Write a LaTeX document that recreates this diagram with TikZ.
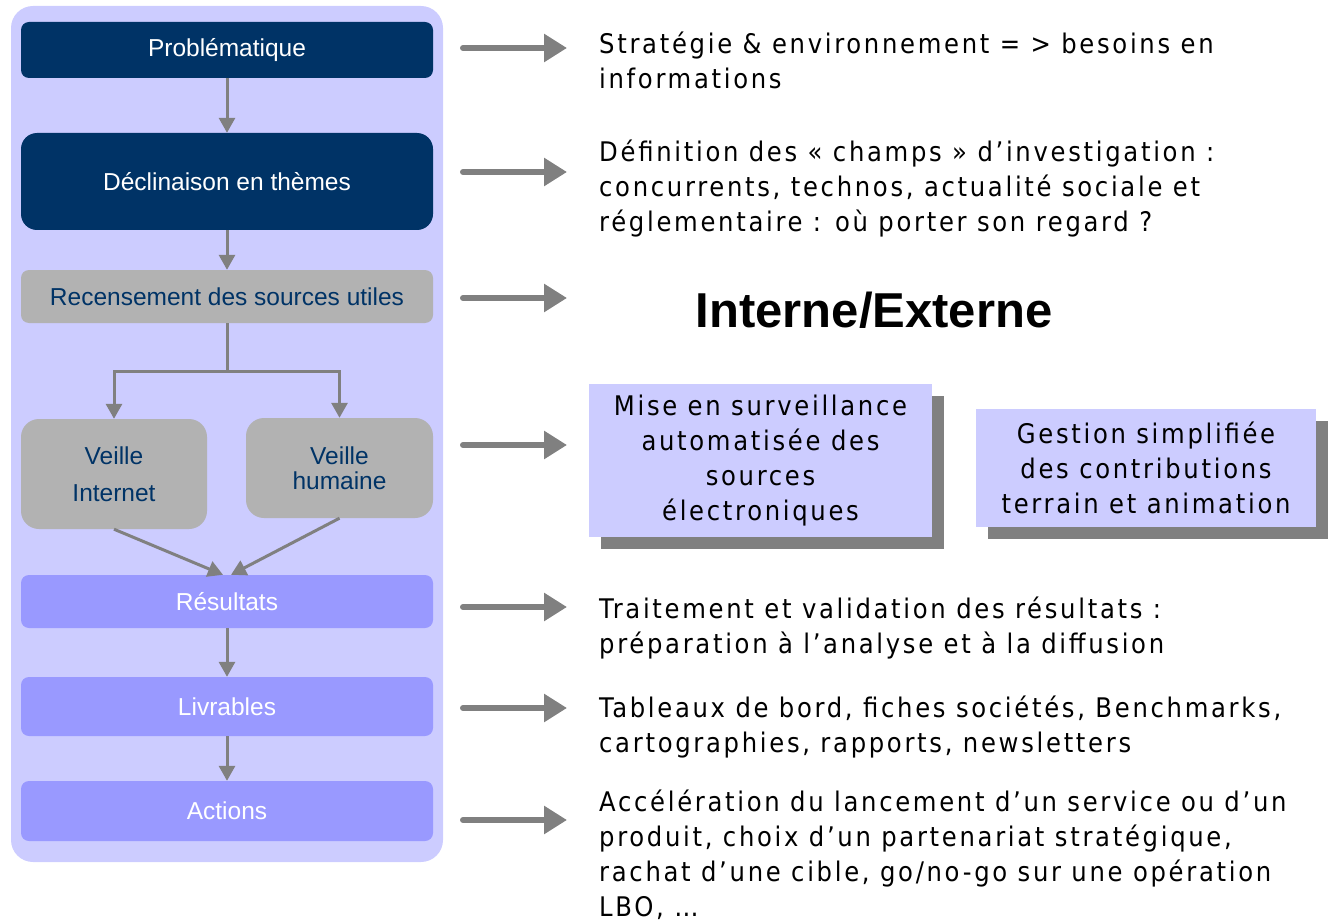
\documentclass[tikz,border=0pt]{standalone}
\usepackage{fontspec}
\setmainfont{Liberation Sans}
\newfontfamily\condfont[LetterSpace=10]{DejaVu Sans Condensed}
\usetikzlibrary{arrows.meta,shadows,calc}

\definecolor{navy}{HTML}{003366}
\definecolor{lilac}{HTML}{CCCCFF}
\definecolor{midlilac}{HTML}{9999FF}
\definecolor{boxgray}{HTML}{B2B2B2}
\definecolor{arrowgray}{HTML}{808080}

\tikzset{
	panel/.style={fill=lilac, rounded corners=22pt, minimum width=432pt, minimum height=856pt, inner sep=0pt},
	stepbox/.style={rounded corners=8pt, minimum width=412pt, inner sep=0pt, align=center, font=\fontsize{24.5}{28}\selectfont},
	darkbox/.style={stepbox, fill=navy, text=white},
	graybox/.style={stepbox, fill=boxgray, text=navy},
	lightbox/.style={stepbox, fill=midlilac, text=white},
	downarrow/.style={draw=arrowgray, line width=3pt, -{Triangle[length=15pt, width=16pt]}},
	bigarrow/.style={draw=arrowgray, line width=6pt, line cap=round, -{Triangle[length=23pt, width=27pt]}},
	note/.style={anchor=base west, inner sep=0pt, align=left, font=\condfont\fontsize{27}{35}\selectfont},
	shadowbox/.style={fill=lilac, inner sep=0pt, align=center, font=\condfont\fontsize{27}{35}\selectfont, drop shadow={shadow xshift=12pt, shadow yshift=-12pt, fill=arrowgray, opacity=1}},
}

\begin{document}
\begin{tikzpicture}[x=1pt, y=-1pt]
	\useasboundingbox (0,0) rectangle (1328,920);
	% left column
	\node[panel] (panel) at (227,434) {};
	\node[darkbox, minimum height=56pt] (prob) at (227,50) {Problématique};
	\node[darkbox, minimum height=97pt, rounded corners=16pt] (decl) at (227,181.5) {Déclinaison en thèmes};
	\node[graybox, minimum height=53pt] (recen) at (227,296.5) {Recensement des sources utiles};
	\node[graybox, minimum width=186pt, minimum height=110pt, rounded corners=18pt, font=\fontsize{24.5}{37}\selectfont] (vint) at (114,474) {Veille\\Internet};
	\node[graybox, minimum width=187pt, minimum height=100pt, rounded corners=18pt, font=\fontsize{24.5}{25}\selectfont] (vhum) at (339.5,468) {Veille\\humaine};
	\node[lightbox, minimum height=53pt] (resu) at (227,601.5) {Résultats};
	\node[lightbox, minimum height=59pt] (livr) at (227,706.5) {Livrables};
	\node[lightbox, minimum height=60pt] (actn) at (227,811) {Actions};
	\draw[downarrow] (prob) -- (decl);
	\draw[downarrow] (decl) -- (recen);
	\coordinate (split) at ($(recen.south)+(0,48)$);
	\draw[draw=arrowgray, line width=3pt] (recen.south) -- (split);
	\draw[downarrow] (split) -| (vint.north);
	\draw[downarrow] (split) -| (vhum.north);
	\draw[downarrow] (vint.south) -- ([xshift=-4pt]resu.north);
	\draw[downarrow] (vhum.south) -- ([xshift=4pt]resu.north);
	\draw[downarrow] (resu) -- (livr);
	\draw[downarrow] (livr) -- (actn);
	% arrows to the right
	\foreach \n/\y in {1/48, 2/172, 3/298, 4/445, 5/607, 6/708, 7/820} {
		\coordinate (s\n) at (463,\y);
		\coordinate (e\n) at (567,\y);
		\draw[bigarrow] (s\n) -- (e\n);
	}
	% texts
	\node[note] (t1) at (599,89) {Stratégie \& environnement = > besoins en\\informations};
	\node[note] (t2) at (599,231.5) {Définition des « champs » d’investigation :\\concurrents, technos, actualité sociale et\\réglementaire : où porter son regard ?};
	\node[anchor=base, inner sep=0pt, font=\bfseries\fontsize{49}{55}\selectfont] (ie) at (874,327) {Interne/Externe};
	\node[shadowbox, minimum width=343pt, minimum height=153pt] (auto) at (760.5,460.5) {Mise en surveillance\\automatisée des\\sources\\électroniques};
	\node[shadowbox, minimum width=340pt, minimum height=118pt] (gest) at (1146,468) {Gestion simplifiée\\des contributions\\terrain et animation};
	\node[note] (t5) at (599,653) {Traitement et validation des résultats :\\préparation à l’analyse et à la diffusion};
	\node[note] (t6) at (599,752) {Tableaux de bord, fiches sociétés, Benchmarks,\\cartographies, rapports, newsletters};
	\node[note] (t7) at (599,916) {Accélération du lancement d’un service ou d’un\\produit, choix d’un partenariat stratégique,\\rachat d’une cible, go/no-go sur une opération\\LBO, …};
\end{tikzpicture}
\end{document}
